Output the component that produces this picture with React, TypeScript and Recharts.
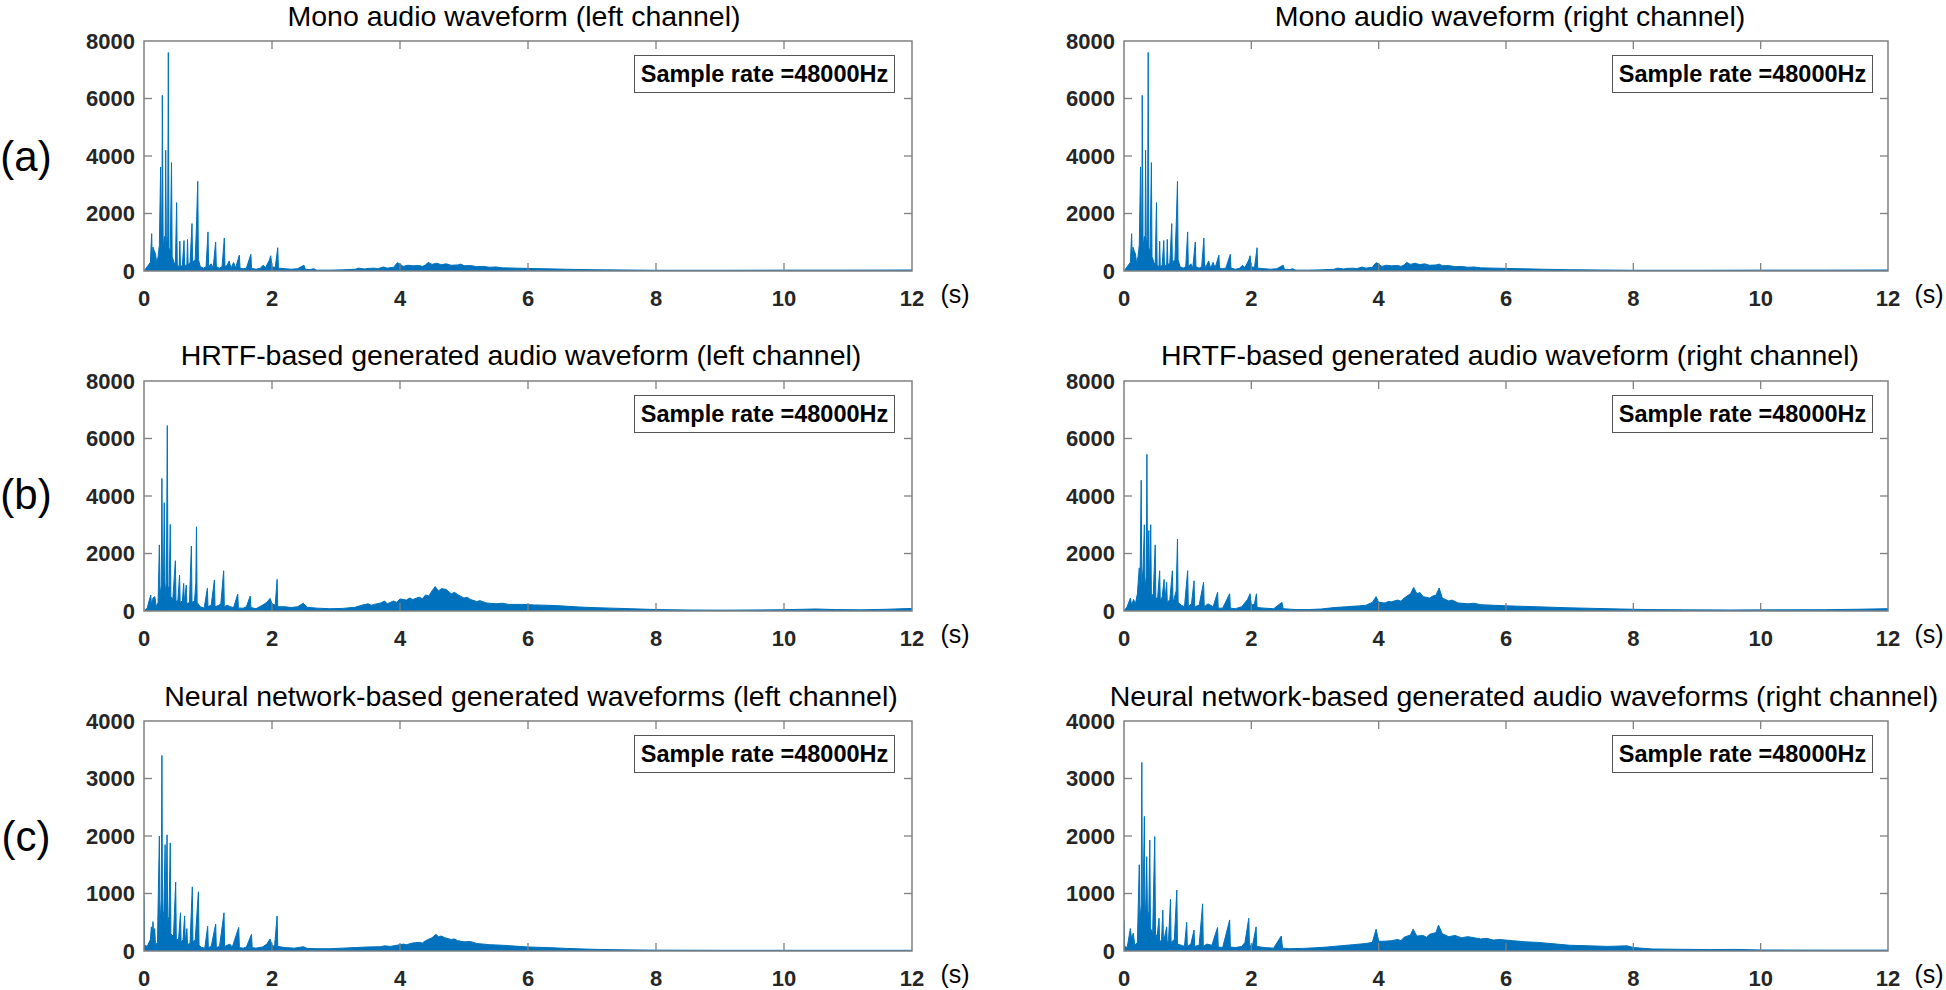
import React from 'react';
import { ComposedChart, Area, XAxis, YAxis, ReferenceArea } from 'recharts';

// ---- tick labels ----
const timeTicks = [0, 2, 4, 6, 8, 10, 12];
const ampTicks8k = [0, 2000, 4000, 6000, 8000];
const ampTicks4k = [0, 1000, 2000, 3000, 4000];

// ---- series: [time (s), amplitude] ----
const monoLeftPts: number[][] = [
  [0, 0], [0.05, 150], [0.1, 300], [0.12, 1300], [0.13, 300], [0.14, 830], [0.16, 700], [0.18, 600],
  [0.2, 250], [0.22, 500], [0.24, 900], [0.26, 3620], [0.27, 1700], [0.28, 600], [0.286, 6110], [0.3, 800],
  [0.32, 1200], [0.33, 700], [0.339, 4200], [0.35, 900], [0.37, 1200], [0.38, 7600], [0.39, 800], [0.41, 700],
  [0.43, 3770], [0.44, 500], [0.47, 300], [0.49, 200], [0.51, 2380], [0.52, 200], [0.55, 150], [0.56, 1040],
  [0.57, 150], [0.6, 200], [0.625, 1060], [0.635, 200], [0.67, 200], [0.68, 1100], [0.69, 200], [0.72, 300],
  [0.75, 1650], [0.76, 300], [0.8, 400], [0.82, 1600], [0.84, 3120], [0.85, 400], [0.88, 150], [0.93, 100],
  [0.97, 150], [1.0, 1360], [1.01, 150], [1.05, 250], [1.08, 100], [1.12, 1010], [1.13, 150], [1.18, 100],
  [1.22, 150], [1.255, 1150], [1.265, 150], [1.3, 200], [1.33, 350], [1.36, 100], [1.4, 300], [1.43, 100],
  [1.49, 550], [1.5, 100], [1.55, 80], [1.6, 100], [1.67, 580], [1.68, 100], [1.75, 60], [1.82, 100],
  [1.86, 200], [1.9, 120], [1.96, 380], [1.98, 530], [2.0, 150], [2.05, 120], [2.09, 810], [2.1, 100],
  [2.2, 80], [2.3, 60], [2.4, 80], [2.5, 200], [2.52, 60], [2.6, 50], [2.65, 80], [2.7, 30], [2.9, 30],
  [3.1, 40], [3.3, 60], [3.35, 100], [3.45, 70], [3.5, 90], [3.6, 100], [3.65, 80], [3.7, 110], [3.74, 140],
  [3.8, 100], [3.9, 130], [3.96, 290], [4.0, 240], [4.05, 160], [4.12, 200], [4.2, 180], [4.3, 190],
  [4.35, 160], [4.4, 210], [4.44, 300], [4.5, 230], [4.57, 270], [4.65, 220], [4.72, 250], [4.8, 200],
  [4.9, 210], [4.95, 240], [5.0, 180], [5.1, 190], [5.2, 150], [5.3, 160], [5.4, 130], [5.5, 140],
  [5.6, 110], [5.8, 100], [6.0, 90], [6.3, 75], [6.6, 60], [7.0, 45], [7.5, 35], [8.0, 25], [9.0, 25],
  [10.0, 30], [11.0, 30], [12.0, 35],
];
const monoRightPts: number[][] = monoLeftPts;

const hrtfLeftPts: number[][] = [
  [0, 0], [0.05, 100], [0.105, 556], [0.12, 150], [0.14, 450], [0.17, 500], [0.19, 150], [0.22, 300],
  [0.24, 2300], [0.25, 500], [0.27, 900], [0.28, 4610], [0.29, 800], [0.305, 1200], [0.316, 3770], [0.33, 600],
  [0.35, 1000], [0.364, 6450], [0.375, 700], [0.395, 900], [0.41, 3010], [0.42, 500], [0.45, 400], [0.49, 1750],
  [0.5, 300], [0.53, 400], [0.556, 1250], [0.565, 300], [0.6, 350], [0.62, 960], [0.63, 300], [0.66, 900],
  [0.67, 250], [0.71, 300], [0.74, 2260], [0.75, 300], [0.79, 350], [0.81, 1000], [0.82, 2930], [0.83, 300],
  [0.88, 150], [0.94, 100], [0.99, 790], [1.0, 150], [1.05, 200], [1.1, 1080], [1.11, 150], [1.17, 200],
  [1.2, 250], [1.245, 1400], [1.255, 150], [1.3, 200], [1.35, 150], [1.4, 120], [1.465, 590], [1.475, 100],
  [1.55, 100], [1.6, 150], [1.66, 520], [1.67, 120], [1.75, 80], [1.85, 200], [1.92, 300], [1.97, 440],
  [2.0, 250], [2.05, 200], [2.08, 1100], [2.09, 150], [2.2, 150], [2.3, 120], [2.4, 150], [2.49, 270],
  [2.55, 130], [2.7, 100], [2.9, 80], [3.1, 90], [3.3, 130], [3.4, 200], [3.5, 250], [3.55, 200], [3.6, 230],
  [3.7, 280], [3.76, 350], [3.8, 250], [3.9, 350], [3.95, 300], [4.0, 420], [4.1, 380], [4.15, 450],
  [4.2, 400], [4.3, 480], [4.35, 430], [4.4, 560], [4.45, 520], [4.5, 700], [4.55, 850], [4.6, 700],
  [4.65, 780], [4.72, 750], [4.8, 600], [4.85, 650], [4.91, 560], [5.0, 450], [5.05, 480], [5.1, 400],
  [5.2, 330], [5.25, 360], [5.35, 280], [5.5, 250], [5.6, 270], [5.7, 230], [5.9, 230], [6.1, 210],
  [6.3, 200], [6.5, 180], [6.8, 140], [7.0, 120], [7.3, 100], [7.6, 80], [8.0, 50], [8.5, 35], [9.0, 30],
  [9.5, 35], [10.0, 45], [10.5, 70], [10.8, 50], [11.2, 40], [11.6, 60], [12.0, 90],
];

const hrtfRightPts: number[][] = [
  [0, 0], [0.05, 150], [0.1, 450], [0.12, 200], [0.15, 400], [0.18, 250], [0.21, 600], [0.24, 1500],
  [0.25, 600], [0.27, 4550], [0.28, 900], [0.3, 1500], [0.32, 3000], [0.33, 800], [0.35, 1200], [0.36, 5450],
  [0.37, 900], [0.39, 2800], [0.4, 700], [0.42, 3000], [0.43, 500], [0.46, 600], [0.49, 2300], [0.5, 400],
  [0.53, 500], [0.56, 1400], [0.57, 350], [0.6, 500], [0.63, 1100], [0.64, 300], [0.67, 1000], [0.68, 300],
  [0.72, 400], [0.76, 1400], [0.77, 300], [0.82, 700], [0.84, 2500], [0.85, 300], [0.9, 200], [0.95, 150],
  [1.0, 1400], [1.01, 150], [1.06, 250], [1.1, 1050], [1.11, 150], [1.18, 200], [1.25, 1000], [1.26, 150],
  [1.32, 250], [1.4, 150], [1.47, 650], [1.48, 100], [1.55, 100], [1.66, 600], [1.67, 100], [1.75, 80],
  [1.85, 150], [1.94, 400], [1.98, 600], [2.0, 200], [2.05, 250], [2.08, 600], [2.09, 120], [2.2, 100],
  [2.35, 80], [2.48, 300], [2.5, 80], [2.7, 50], [2.9, 50], [3.1, 70], [3.3, 120], [3.5, 150], [3.7, 180],
  [3.8, 200], [3.9, 300], [3.96, 500], [4.0, 300], [4.1, 280], [4.15, 330], [4.2, 320], [4.3, 380],
  [4.35, 340], [4.4, 450], [4.5, 600], [4.55, 820], [4.6, 600], [4.65, 640], [4.7, 500], [4.8, 450],
  [4.85, 520], [4.9, 550], [4.95, 800], [5.0, 450], [5.1, 350], [5.15, 380], [5.25, 280], [5.4, 250],
  [5.5, 270], [5.6, 220], [5.8, 200], [6.0, 180], [6.3, 160], [6.6, 140], [7.0, 110], [7.4, 90],
  [7.8, 70], [8.2, 50], [8.8, 40], [9.5, 35], [10.2, 40], [11.0, 45], [11.5, 60], [12.0, 80],
];

const nnLeftPts: number[][] = [
  [0, 950], [0.01, 100], [0.05, 80], [0.1, 200], [0.115, 420], [0.13, 250], [0.14, 510], [0.155, 200],
  [0.167, 390], [0.18, 100], [0.21, 150], [0.24, 2000], [0.25, 400], [0.27, 900], [0.28, 3400], [0.29, 500],
  [0.31, 700], [0.33, 1850], [0.34, 400], [0.36, 2020], [0.37, 500], [0.39, 600], [0.41, 1880], [0.42, 300],
  [0.46, 250], [0.495, 1200], [0.505, 200], [0.54, 200], [0.57, 665], [0.58, 150], [0.61, 200], [0.635, 610],
  [0.645, 150], [0.67, 390], [0.68, 100], [0.72, 150], [0.755, 1115], [0.765, 150], [0.8, 200], [0.85, 1030],
  [0.86, 100], [0.9, 60], [0.95, 50], [0.995, 430], [1.005, 60], [1.05, 80], [1.12, 470], [1.13, 60],
  [1.18, 80], [1.25, 665], [1.26, 80], [1.3, 100], [1.34, 120], [1.38, 70], [1.48, 410], [1.49, 60],
  [1.55, 50], [1.6, 70], [1.68, 290], [1.69, 60], [1.75, 50], [1.85, 70], [1.92, 120], [1.97, 210],
  [2.0, 100], [2.04, 80], [2.08, 610], [2.09, 80], [2.2, 60], [2.35, 50], [2.49, 75], [2.55, 45], [2.7, 40],
  [2.9, 40], [3.1, 50], [3.3, 60], [3.5, 70], [3.7, 75], [3.76, 90], [3.85, 80], [3.95, 100], [4.05, 120],
  [4.1, 110], [4.2, 140], [4.3, 150], [4.35, 140], [4.4, 180], [4.5, 230], [4.56, 290], [4.6, 250],
  [4.65, 260], [4.7, 230], [4.8, 200], [4.85, 210], [4.9, 180], [5.0, 160], [5.1, 165], [5.2, 130],
  [5.4, 110], [5.6, 100], [5.8, 85], [6.0, 70], [6.3, 60], [6.6, 45], [7.0, 30], [7.5, 20], [8.0, 15],
  [9.0, 12], [10.0, 12], [11.0, 12], [12.0, 12],
];

const nnRightPts: number[][] = [
  [0, 540], [0.01, 80], [0.05, 60], [0.1, 390], [0.12, 200], [0.145, 310], [0.17, 100], [0.21, 150],
  [0.24, 1500], [0.25, 500], [0.27, 800], [0.28, 3280], [0.29, 600], [0.3, 900], [0.32, 2340], [0.33, 500],
  [0.345, 900], [0.357, 1640], [0.37, 500], [0.39, 700], [0.405, 1930], [0.415, 400], [0.45, 300],
  [0.483, 1990], [0.495, 300], [0.52, 250], [0.55, 570], [0.56, 150], [0.59, 200], [0.61, 710], [0.62, 150],
  [0.67, 420], [0.68, 120], [0.7, 200], [0.73, 900], [0.74, 150], [0.79, 200], [0.83, 1060], [0.84, 120],
  [0.9, 100], [0.95, 80], [0.985, 500], [0.995, 80], [1.05, 120], [1.1, 365], [1.11, 80], [1.18, 100],
  [1.235, 820], [1.245, 80], [1.3, 120], [1.38, 100], [1.47, 410], [1.48, 70], [1.55, 60], [1.66, 540],
  [1.67, 70], [1.75, 60], [1.85, 80], [1.9, 150], [1.96, 570], [1.97, 100], [2.02, 100], [2.075, 420],
  [2.085, 80], [2.2, 60], [2.35, 50], [2.47, 260], [2.49, 50], [2.6, 40], [2.8, 45], [3.0, 55], [3.2, 70],
  [3.4, 90], [3.6, 110], [3.8, 130], [3.9, 150], [3.96, 380], [4.0, 170], [4.1, 170], [4.2, 180], [4.3, 200],
  [4.35, 180], [4.4, 240], [4.5, 280], [4.54, 380], [4.6, 260], [4.7, 270], [4.75, 240], [4.8, 290],
  [4.9, 320], [4.94, 450], [5.0, 300], [5.1, 250], [5.2, 270], [5.3, 230], [5.4, 250], [5.5, 230],
  [5.6, 210], [5.7, 220], [5.8, 190], [5.9, 200], [6.1, 180], [6.3, 160], [6.5, 150], [6.8, 120],
  [7.0, 100], [7.3, 90], [7.6, 80], [7.9, 90], [8.0, 60], [8.3, 35], [8.7, 30], [9.2, 25], [9.6, 28],
  [10.0, 18], [11.0, 15], [12.0, 15],
];

const panelTitles = [
  'Mono audio waveform (left channel)',
  'Mono audio waveform (right channel)',
  'HRTF-based generated audio waveform (left channel)',
  'HRTF-based generated audio waveform (right channel)',
  'Neural network-based generated waveforms (left channel)',
  'Neural network-based generated audio waveforms (right channel)',
];
const rowLabels = ['(a)', '(b)', '(c)'];
const legendText = 'Sample rate =48000Hz';

// ---- layout ----
const FONT = '"Liberation Sans", Arial, Helvetica, sans-serif';
const BLUE = '#0072BD';
const AXIS = '#808080';
const TICKTXT = '#262626';
const PLOT_H = 230;
const X_MARGIN = 19;
const Y_MARGIN = 9;
const TICK_LEN = 8;
const M_TOP = 20;
const M_RIGHT = 30;
const Y_W = 80;
const X_H = 45;

const colGeom = [
  { left: 144, width: 768, sX: 955, boxRight: 895 },
  { left: 1124, width: 764, sX: 1929, boxRight: 1873 },
];
const rowGeom = [
  { top: 41, titleY: 17, labelY: 157 },
  { top: 381, titleY: 356, labelY: 495 },
  { top: 721, titleY: 697, labelY: 837 },
];
const titleXs = [514, 1510, 521, 1510, 531, 1524];

const panels = [
  { pts: monoLeftPts, ticks: ampTicks8k, row: 0, col: 0 },
  { pts: monoRightPts, ticks: ampTicks8k, row: 0, col: 1 },
  { pts: hrtfLeftPts, ticks: ampTicks8k, row: 1, col: 0 },
  { pts: hrtfRightPts, ticks: ampTicks8k, row: 1, col: 1 },
  { pts: nnLeftPts, ticks: ampTicks4k, row: 2, col: 0 },
  { pts: nnRightPts, ticks: ampTicks4k, row: 2, col: 1 },
];

function makeXTick(plotH: number) {
  return (p: any) => {
    const { x, y, payload } = p;
    const axisY = y - X_MARGIN;
    const edge = payload.value === timeTicks[0] || payload.value === timeTicks[timeTicks.length - 1];
    return (
      <g>
        {!edge && <line x1={x} x2={x} y1={axisY} y2={axisY - TICK_LEN} stroke={AXIS} strokeWidth={1.3} />}
        {!edge && (
          <line x1={x} x2={x} y1={axisY - plotH} y2={axisY - plotH + TICK_LEN} stroke={AXIS} strokeWidth={1.3} />
        )}
        <text x={x} y={y} dy="0.71em" textAnchor="middle" fill={TICKTXT} fontFamily={FONT} fontWeight="bold" fontSize={22}>
          {payload.value}
        </text>
      </g>
    );
  };
}

function makeYTick(plotW: number, ticks: number[]) {
  return (p: any) => {
    const { x, y, payload } = p;
    const axisX = x + Y_MARGIN;
    const edge = payload.value === ticks[0] || payload.value === ticks[ticks.length - 1];
    return (
      <g>
        {!edge && <line x1={axisX} x2={axisX + TICK_LEN} y1={y} y2={y} stroke={AXIS} strokeWidth={1.3} />}
        {!edge && (
          <line x1={axisX + plotW - TICK_LEN} x2={axisX + plotW} y1={y} y2={y} stroke={AXIS} strokeWidth={1.3} />
        )}
        <text x={x} y={y} dy="0.36em" textAnchor="end" fill={TICKTXT} fontFamily={FONT} fontWeight="bold" fontSize={22}>
          {payload.value}
        </text>
      </g>
    );
  };
}

function Panel({ pts, ticks, row, col }: any) {
  const cg = colGeom[col];
  const rg = rowGeom[row];
  const data = pts.map((d: number[]) => ({ t: d[0], v: d[1] }));
  const yMax = ticks[ticks.length - 1];
  const W = cg.width + Y_W + M_RIGHT;
  const H = PLOT_H + M_TOP + X_H;
  return (
    <div style={{ position: 'absolute', left: cg.left - Y_W, top: rg.top - M_TOP, width: W, height: H }}>
      <ComposedChart width={W} height={H} data={data} margin={{ top: M_TOP, right: M_RIGHT, bottom: 0, left: 0 }}>
        <XAxis
          dataKey="t"
          type="number"
          domain={[timeTicks[0], timeTicks[timeTicks.length - 1]]}
          ticks={timeTicks}
          interval={0}
          allowDataOverflow
          height={X_H}
          axisLine={false}
          tickLine={false}
          tickSize={0}
          tickMargin={X_MARGIN}
          tick={makeXTick(PLOT_H)}
        />
        <YAxis
          type="number"
          domain={[0, yMax]}
          ticks={ticks}
          interval={0}
          allowDataOverflow
          width={Y_W}
          axisLine={false}
          tickLine={false}
          tickSize={0}
          tickMargin={Y_MARGIN}
          tick={makeYTick(cg.width, ticks)}
        />
        <Area
          type="linear"
          dataKey="v"
          stroke={BLUE}
          strokeWidth={1}
          fill={BLUE}
          fillOpacity={1}
          dot={false}
          activeDot={false}
          isAnimationActive={false}
        />
        <ReferenceArea x1={timeTicks[0]} x2={timeTicks[timeTicks.length - 1]} y1={0} y2={yMax} fill="none" fillOpacity={0} stroke={AXIS} strokeWidth={1.5} />
      </ComposedChart>
    </div>
  );
}

export default function App() {
  return (
    <div style={{ position: 'absolute', left: 0, top: 0, width: 1946, height: 990, background: '#fff', fontFamily: FONT, overflow: 'hidden' }}>
      {panels.map((p, i) => (
        <Panel key={i} {...p} />
      ))}
      {panels.map((p, i) => (
        <div
          key={'t' + i}
          style={{
            position: 'absolute',
            left: titleXs[i],
            top: rowGeom[p.row].titleY,
            transform: 'translate(-50%, -50%)',
            whiteSpace: 'nowrap',
            fontSize: 28.5,
            color: '#000',
            lineHeight: 1.1,
          }}
        >
          {panelTitles[i]}
        </div>
      ))}
      {panels.map((p, i) => (
        <div
          key={'b' + i}
          style={{
            position: 'absolute',
            left: colGeom[p.col].boxRight - 261,
            top: rowGeom[p.row].top + 14,
            width: 261,
            height: 38,
            boxSizing: 'border-box',
            border: '1.5px solid #555',
            background: '#fff',
            display: 'flex',
            alignItems: 'center',
            justifyContent: 'center',
            fontWeight: 'bold',
            fontSize: 23.5,
            color: '#000',
            whiteSpace: 'nowrap',
          }}
        >
          {legendText}
        </div>
      ))}
      {panels.map((p, i) => (
        <div
          key={'s' + i}
          style={{
            position: 'absolute',
            left: colGeom[p.col].sX,
            top: rowGeom[p.row].top + PLOT_H + 23,
            transform: 'translate(-50%, -50%)',
            fontSize: 25,
            color: '#000',
            lineHeight: 1,
            whiteSpace: 'nowrap',
          }}
        >
          (s)
        </div>
      ))}
      {rowLabels.map((l, i) => (
        <div
          key={'r' + i}
          style={{
            position: 'absolute',
            left: 26,
            top: rowGeom[i].labelY,
            transform: 'translate(-50%, -50%)',
            fontSize: 42,
            color: '#000',
            lineHeight: 1,
          }}
        >
          {l}
        </div>
      ))}
    </div>
  );
}
